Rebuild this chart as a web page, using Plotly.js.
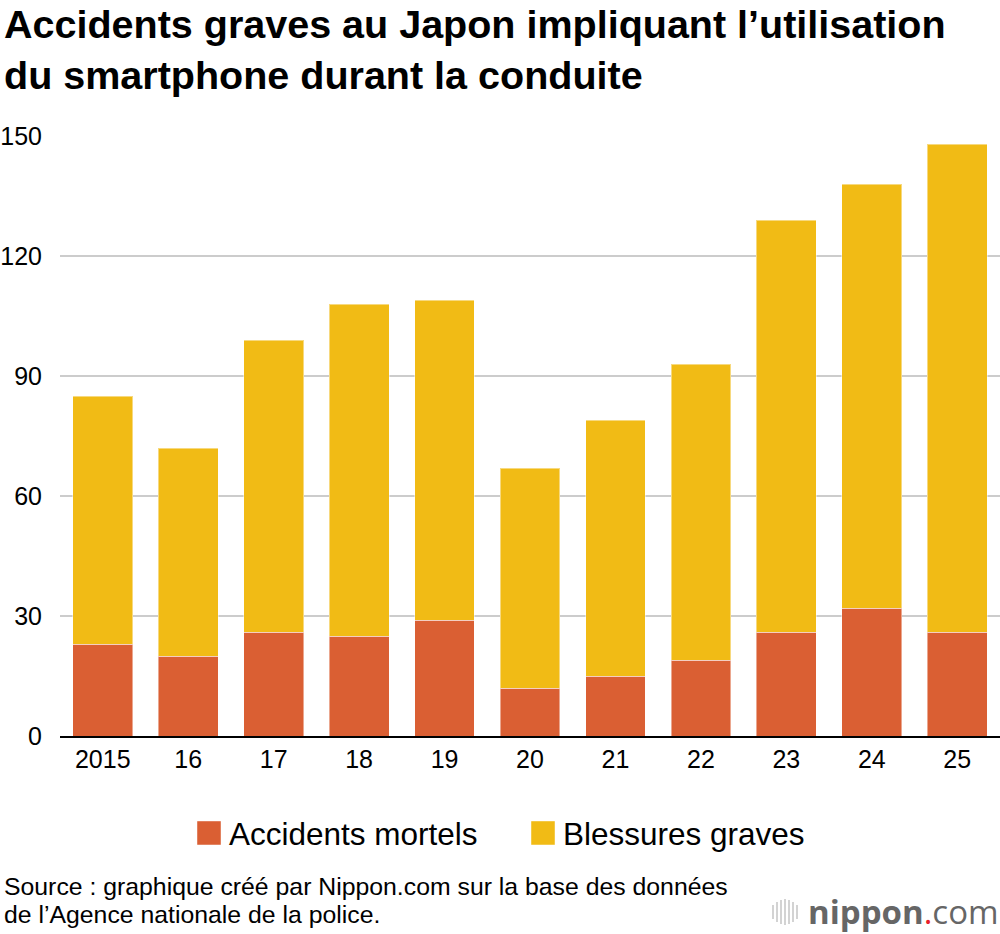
<!DOCTYPE html>
<html>
<head>
<meta charset="utf-8">
<script src="https://cdn.plot.ly/plotly-3.0.1.min.js"></script>
<style>
html,body{margin:0;padding:0;background:#fff;}
#chart{width:1000px;height:934px;}
</style>
</head>
<body>
<div id="chart"></div>
<script>
// ---- data ----
const years = ["2015","16","17","18","19","20","21","22","23","24","25"];
const fatal = [23, 20, 26, 25, 29, 12, 15, 19, 26, 32, 26];
const serious = [62, 52, 73, 83, 80, 55, 64, 74, 103, 106, 122];
const seriesNames = ["Accidents mortels", "Blessures graves"];
const yTicks = [0, 30, 60, 90, 120, 150];
const titleLines = ["Accidents graves au Japon impliquant l’utilisation", "du smartphone durant la conduite"];
const sourceLines = ["Source : graphique créé par Nippon.com sur la base des données", "de l’Agence nationale de la police."];

// ---- layout helpers (pixel -> paper) ----
const W = 1000, H = 934;
const M = {l: 60, r: 0, t: 136, b: 198};
const PW = W - M.l - M.r, PH = H - M.t - M.b;
const px = x => (x - M.l) / PW;
const py = y => (H - M.b - y) / PH;

const FONT = "Liberation Sans, Arial, Helvetica, sans-serif";

const traces = [
  {type: "bar", x: years, y: fatal, name: seriesNames[0],
   marker: {color: "#DA5F33", line: {color: "rgba(255,255,255,0.45)", width: 1}}},
  {type: "bar", x: years, y: serious, name: seriesNames[1],
   marker: {color: "#F1BB15", line: {color: "rgba(255,255,255,0.45)", width: 1}}}
];

// logo icon bars
const iconX = [773, 777, 781, 785, 789, 793, 797];
const iconHalf = [7, 10, 12, 13, 12, 10, 7];
const shapes = iconX.map((x, i) => ({
  type: "line", xref: "paper", yref: "paper",
  x0: px(x), x1: px(x), y0: py(912 - iconHalf[i]), y1: py(912 + iconHalf[i]),
  line: {color: "#c8c8c8", width: 1.6}
}));

const layout = {
  width: W, height: H,
  margin: M,
  paper_bgcolor: "#fff", plot_bgcolor: "#fff",
  font: {family: FONT, color: "#000", size: 25},
  barmode: "stack",
  bargap: 0.3,
  title: {
    text: "<b>" + titleLines.join("<br>") + "</b>",
    font: {family: FONT, size: 39.5, color: "#000"},
    x: 0.004, xanchor: "left", xref: "container",
    y: 1 - 38 / H, yanchor: "top", yref: "container",
    pad: {t: 0, l: 0}
  },
  xaxis: {
    type: "category",
    showgrid: false,
    showline: true, linecolor: "#000", linewidth: 2,
    ticks: "",
    tickfont: {size: 25, family: FONT, color: "#000"},
    fixedrange: true
  },
  yaxis: {
    range: [0, 150],
    tickvals: yTicks,
    ticktext: yTicks.map(String),
    showgrid: true, gridcolor: "#cccccc", gridwidth: 2,
    zeroline: false,
    showline: false,
    ticks: "outside", ticklen: 12, tickcolor: "rgba(0,0,0,0)",
    tickfont: {size: 25, family: FONT, color: "#000"},
    fixedrange: true
  },
  showlegend: true,
  legend: {
    orientation: "h",
    xref: "container", yref: "container",
    x: 0.189, xanchor: "left",
    y: 1 - 833 / H, yanchor: "middle",
    entrywidth: 289, entrywidthmode: "pixels",
    font: {size: 31.5, family: FONT, color: "#000"},
    traceorder: "normal",
    bgcolor: "rgba(0,0,0,0)"
  },
  shapes: shapes,
  annotations: [
    {xref: "paper", yref: "paper", x: px(2), y: py(886), xanchor: "left", yanchor: "middle",
     text: sourceLines[0], align: "left", showarrow: false,
     font: {size: 24.8, family: FONT, color: "#000"}},
    {xref: "paper", yref: "paper", x: px(2), y: py(914), xanchor: "left", yanchor: "middle",
     text: sourceLines[1], align: "left", showarrow: false,
     font: {size: 24.8, family: FONT, color: "#000"}},
    {xref: "paper", yref: "paper", x: px(806), y: py(911), xanchor: "left", yanchor: "middle",
     text: "<b>nippon</b><span style='color:#e8202a'>.</span>com", showarrow: false,
     font: {size: 33, family: "Open Sans, sans-serif", color: "#666666"}}
  ]
};

function bigSwatches(gd) {
  gd.querySelectorAll("g.legend g.legendpoints path").forEach(p => {
    p.setAttribute("d", "M12,12H-12V-12H12Z");
  });
}

Plotly.newPlot("chart", traces, layout, {displayModeBar: false, staticPlot: true}).then(gd => {
  bigSwatches(gd);
  gd.on("plotly_afterplot", () => bigSwatches(gd));
});
</script>
</body>
</html>
